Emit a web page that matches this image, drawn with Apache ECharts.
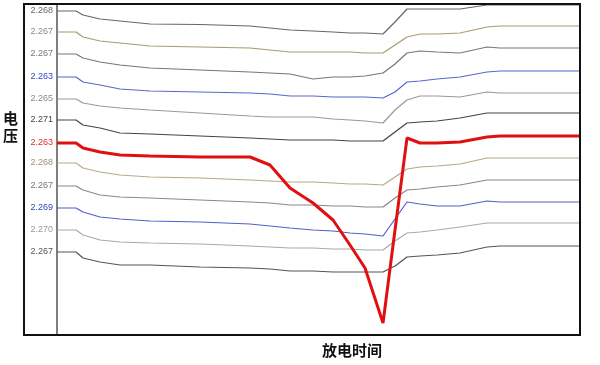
<!DOCTYPE html>
<html><head><meta charset="utf-8">
<script src="https://cdn.jsdelivr.net/npm/echarts@6/dist/echarts.min.js"></script>
<style>html,body{margin:0;padding:0;background:#fff}#c{width:600px;height:365px}</style>
</head><body><div id="c"></div>
<script>
// discharge time knots (arbitrary units)
const time = [0, 19, 26, 43, 63, 93, 143, 193, 213, 233, 256, 276, 293, 308, 326, 338, 350, 363, 380, 403, 430, 443, 523];
// trace labels (voltage readings) – top to bottom
const labels = ['2.268','2.267','2.267','2.263','2.265','2.271','2.263','2.268','2.267','2.269','2.270','2.267'];
// trace offsets (downward depth, arbitrary units)
const trace1  = [7,7,11,15,17,20,20.5,22,24,26,27,28,29,29,30,18,5,5,5,5,1,1,1];
const trace2  = [28,28,33,37,39,42,43,44,46,48,48,48,48,49,49,41,33,30,30,29,23,22,22];
const trace3  = [50,50,54,58,61,64,66,68,69,70,75,73,73,72,69,60,49,47,48,49,43,44,44];
const trace4  = [73,73,78,81,85,87,88,89,90,92,92,93,93,93,94,88,78,77,75,73,68,67,67];
const trace5  = [95,95,99,102,104,106,109,112,113,113,113,115,116,117,119,106,96,92,92,93,88,89,89];
const trace6  = [116,116,121,124,129,130,132,134,135,136,136,136,137,137,137,128,119,118,117,114,109,109,109];
const trace7  = [139,139,144,148,151,152,153,153,161,184,199,216,241,264,319,226,134,139,139,138,133,132,132];
const trace8  = [159,159,164,168,171,173,174,176,177,178,178,179,180,180,181,173,165,163,162,160,154,154,154];
const trace9  = [182,182,186,191,193,194,196,198,199,201,201,202,202,203,203,194,186,185,183,181,176,176,176];
const trace10 = [204,204,208,213,215,217,218,220,222,224,226,227,229,230,232,215,198,200,202,202,197,198,198];
const trace11 = [226,226,231,236,238,239,240,242,243,244,244,245,245,246,246,237,229,228,226,223,219,219,219];
const trace12 = [248,248,254,258,261,261,263,264,265,267,267,268,268,268,268,262,253,252,251,249,243,242,242];

const traces = [trace1,trace2,trace3,trace4,trace5,trace6,trace7,trace8,trace9,trace10,trace11,trace12];
const lineColors  = ['#666','#a89a70','#777','#5a66cc','#999','#444','#e01010','#b8a888','#888','#5060c8','#aaa','#555'];
const labelColors = ['#666','#8a8a7a','#777','#3344cc','#888','#444','#e03030','#a09070','#777','#3344bb','#999','#555'];

const series = traces.map((vals, k) => ({
  type: 'line',
  name: labels[k],
  clip: false,
  symbol: 'circle',
  symbolSize: 0,
  showSymbol: true,
  silent: true,
  lineStyle: { color: lineColors[k], width: k === 6 ? 3 : 1.2 },
  itemStyle: { color: lineColors[k] },
  emphasis: { disabled: true },
  z: k === 6 ? 5 : 3,
  data: vals.map((v, i) => i === 0
    ? { value: [time[i], v], label: { show: true, position: 'left', distance: 4, formatter: labels[k], color: labelColors[k], fontSize: 9, fontFamily: 'Liberation Sans, Arial' } }
    : [time[i], v])
}));

const chart = echarts.init(document.getElementById('c'), null, { renderer: 'canvas' });
chart.setOption({
  animation: false,
  backgroundColor: '#fff',
  grid: { left: 57, right: 20, top: 4, bottom: 30 },
  xAxis: { type: 'value', min: 0, max: 523, axisLine: { show: false }, axisTick: { show: false }, axisLabel: { show: false }, splitLine: { show: false } },
  yAxis: { type: 'value', inverse: true, min: 0, max: 331, axisLine: { show: true, lineStyle: { color: '#555', width: 1.5 } }, axisTick: { show: false }, axisLabel: { show: false }, splitLine: { show: false } },
  graphic: [
    { type: 'rect', shape: { x: 24, y: 4, width: 556, height: 331 }, style: { fill: 'none', stroke: '#111', lineWidth: 2 }, z: 10, silent: true },
    { type: 'text', left: 3, top: 110, style: { text: '电\n压', font: 'bold 15px "Noto Sans CJK SC"', fill: '#111', lineHeight: 17 }, z: 10 },
    { type: 'text', left: 322, top: 343, style: { text: '放电时间', font: 'bold 15px "Noto Sans CJK SC"', fill: '#111' }, z: 10 }
  ],
  series
});
</script></body></html>
